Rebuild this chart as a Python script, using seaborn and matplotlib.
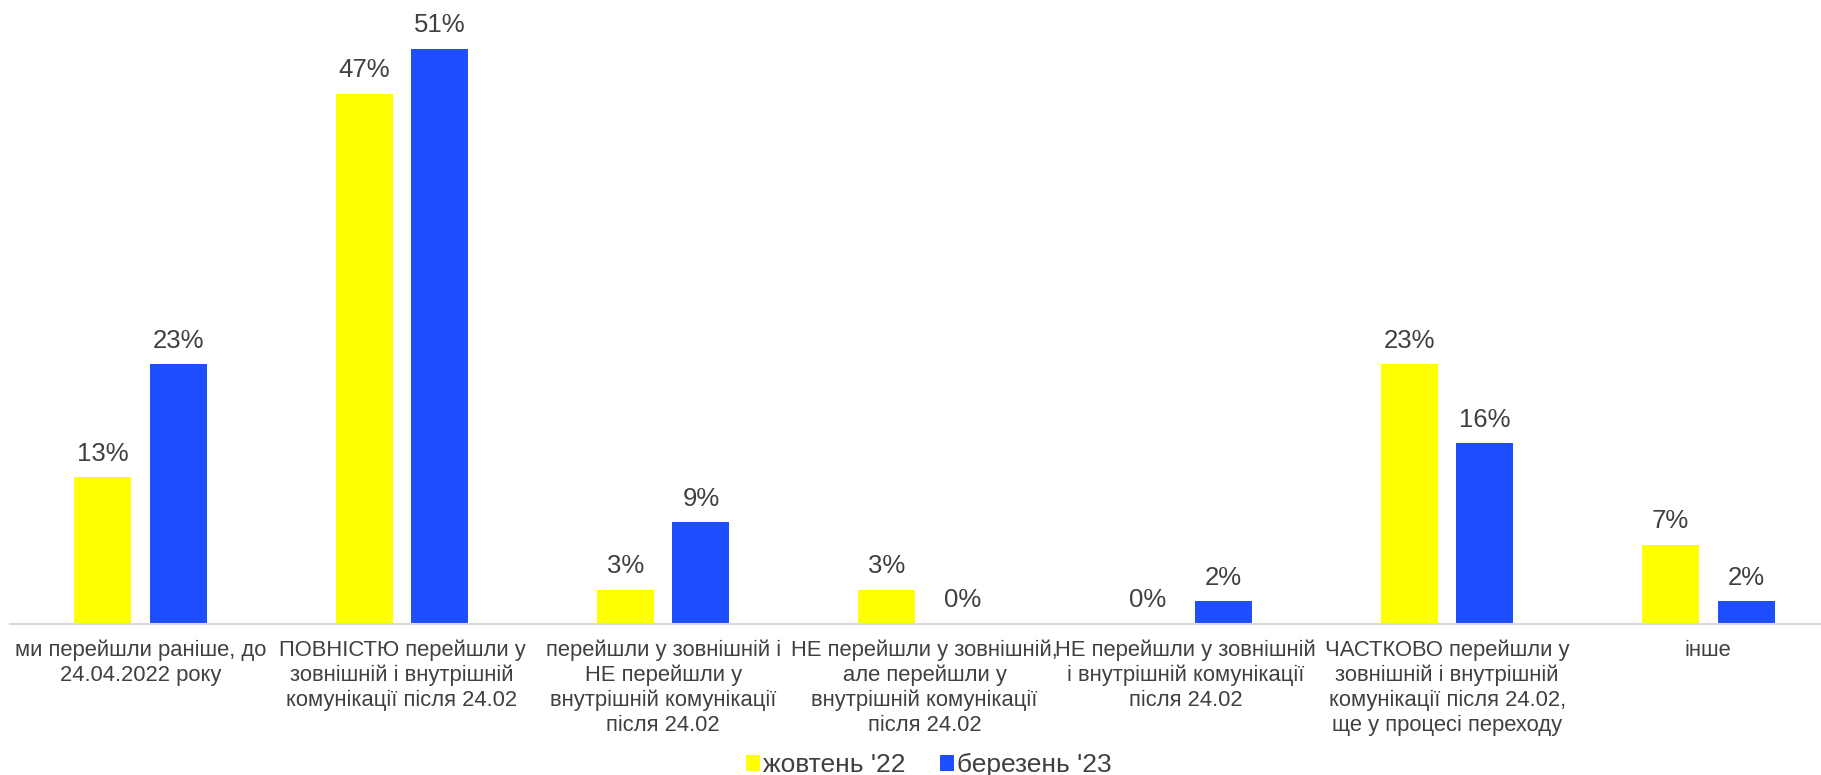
import matplotlib
matplotlib.use("Agg")
import matplotlib.pyplot as plt
import seaborn as sns
import pandas as pd

categories = [
    "ми перейшли раніше, до\n24.04.2022 року",
    "ПОВНІСТЮ перейшли у\nзовнішній і внутрішній\nкомунікації після 24.02",
    "перейшли у зовнішній і\nНЕ перейшли у\nвнутрішній комунікації\nпісля 24.02",
    "НЕ перейшли у зовнішній,\nале перейшли у\nвнутрішній комунікації\nпісля 24.02",
    "НЕ перейшли у зовнішній\nі внутрішній комунікації\nпісля 24.02",
    "ЧАСТКОВО перейшли у\nзовнішній і внутрішній\nкомунікації після 24.02,\nще у процесі переходу",
    "інше",
]
series_names = ["жовтень '22", "березень '23"]
oct_22 = [13, 47, 3, 3, 0, 23, 7]
mar_23 = [23, 51, 9, 0, 2, 16, 2]

colors = ["#FFFF00", "#1F4EFF"]
text_color = "#404040"

sns.set_theme(style="white")
plt.rcParams["font.family"] = ["Liberation Sans", "DejaVu Sans"]

df = pd.DataFrame({
    "category": categories * 2,
    "series": [series_names[0]] * len(categories) + [series_names[1]] * len(categories),
    "value": oct_22 + mar_23,
})

W, H = 1821, 775
fig = plt.figure(figsize=(W / 100, H / 100), dpi=100)
ax = fig.add_axes([10 / W, (H - 623.7) / H, 1829 / W, 623.7 / H])

sns.barplot(
    data=df, x="category", y="value", hue="series",
    order=categories, hue_order=series_names,
    palette=colors, width=0.577, gap=0.245,
    saturation=1, linewidth=0, ax=ax, legend=True,
)

ax.set_ylim(0, 55.34)
ax.set_xlim(-0.5, len(categories) - 0.5)
ax.set_xlabel("")
ax.set_ylabel("")
ax.set_yticks([])

for container in ax.containers:
    ax.bar_label(
        container,
        labels=[f"{int(v)}%" for v in container.datavalues],
        padding=8.3, fontsize=18.5, color=text_color,
    )

ax.set_xticks(range(len(categories)))
ax.set_xticklabels(categories, fontsize=15.8, color=text_color, linespacing=1.22)
ax.tick_params(axis="x", length=0, pad=11.5)

for side in ["top", "right", "left"]:
    ax.spines[side].set_visible(False)
ax.spines["bottom"].set_color("#D9D9D9")
ax.spines["bottom"].set_linewidth(1.5)

handles, labels = ax.get_legend_handles_labels()
ax.get_legend().remove()
fig.legend(
    handles, labels, loc="center", bbox_to_anchor=(0.51, 0.013),
    ncol=2, frameon=False, fontsize=19, labelcolor=text_color,
    handlelength=0.55, handleheight=0.55, handletextpad=0.1,
    columnspacing=1.3, borderaxespad=0, borderpad=0,
)

fig.savefig("out.png", dpi=100)
